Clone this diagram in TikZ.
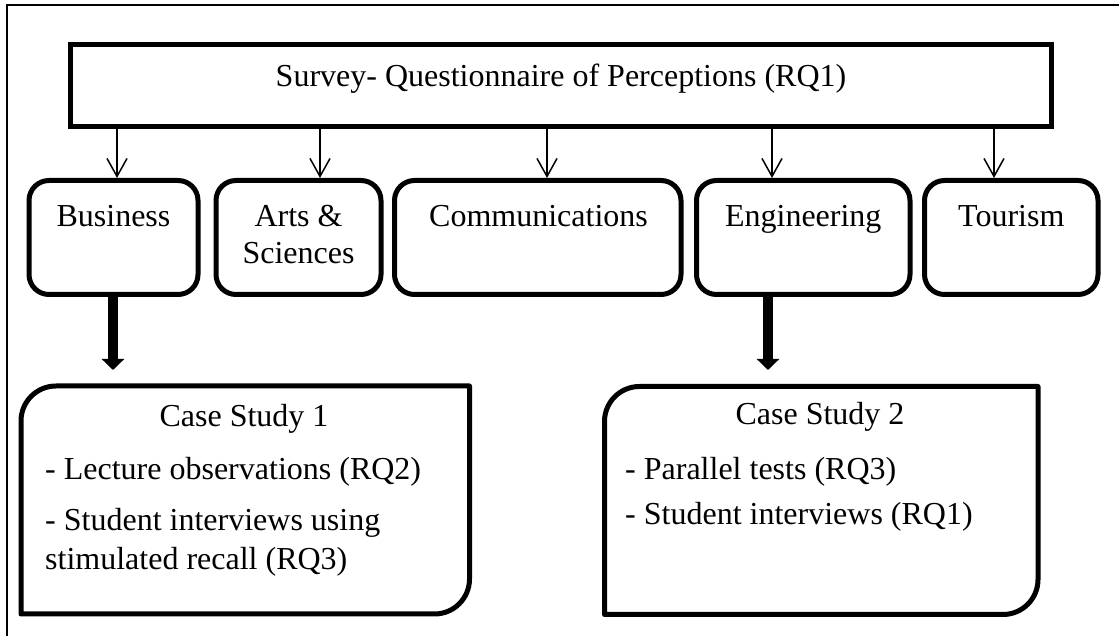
\documentclass[tikz,border=0pt]{standalone}
\usepackage{fontspec}
\setmainfont{Liberation Serif}
\usetikzlibrary{arrows.meta}
\begin{document}
\begin{tikzpicture}[x=1pt,y=1pt,
  font=\fontsize{32}{36.6}\selectfont,
  topbox/.style={draw, line width=5pt, rectangle, inner sep=0pt},
  catbox/.style={draw, line width=5pt, rectangle, rounded corners=20pt, inner sep=0pt, minimum height=114pt},
  casebox/.style={draw=none, rectangle, inner sep=0pt, outer sep=0pt, minimum height=228pt},
  caseline/.style={line width=5pt, line join=round},
  txt/.style={inner sep=0pt, anchor=base},
  itemtxt/.style={inner sep=0pt, anchor=base west},
  thinarrow/.style={line width=1.5pt, -{Straight Barb[length=18pt 0 0, width=20pt 0 0]}},
  thickarrow/.style={line width=10pt, -{Triangle[length=11pt 0 0, width=22pt 0 0]}},
  frameline/.style={line width=1.2pt}
]
\useasboundingbox (0,0) rectangle (1119,636);
% outer frame (partially visible)
\draw[frameline] (7,-10) -- (7,631) -- (1130,631);

% top box
\node[topbox, minimum width=981pt, minimum height=81.5pt] (top) at (561,550.25) {};
\node[txt] (toptxt) at (561,549) {Survey- Questionnaire of Perceptions (RQ1)};

% category boxes
\node[catbox, minimum width=169pt]   (biz)  at (113.5,398.5) {};
\node[catbox, minimum width=165pt]   (arts) at (298.5,398.5) {};
\node[catbox, minimum width=286.5pt] (comm) at (537.75,398.5) {};
\node[catbox, minimum width=213.5pt] (eng)  at (803.25,398.5) {};
\node[catbox, minimum width=173.5pt] (tour) at (1011.25,398.5) {};

\node[txt] (biztxt)   at (113.5,409) {Business};
\node[txt] (artstxta) at (298.5,409) {Arts \&};
\node[txt] (artstxtb) at (298.5,372.5) {Sciences};
\node[txt] (commtxt)  at (538.5,409) {Communications};
\node[txt] (engtxt)   at (803.25,409) {Engineering};
\node[txt] (tourtxt)  at (1011.25,409) {Tourism};

% thin arrows
\coordinate (a1) at (117,0);
\coordinate (a2) at (320,0);
\coordinate (a3) at (547,0);
\coordinate (a4) at (772,0);
\coordinate (a5) at (994,0);
\draw[thinarrow] (top.south -| a1) -- (biz.north -| a1);
\draw[thinarrow] (top.south -| a2) -- (arts.north -| a2);
\draw[thinarrow] (top.south -| a3) -- (comm.north -| a3);
\draw[thinarrow] (top.south -| a4) -- (eng.north -| a4);
\draw[thinarrow] (top.south -| a5) -- (tour.north -| a5);

% case study boxes
\node[casebox, minimum width=448.5pt] (cs1) at (245.25,136) {};
\node[casebox, minimum width=433.5pt] (cs2) at (821.25,135.5) {};
\draw[caseline] (cs1.south west) -- ([yshift=-35pt]cs1.north west)
  arc[start angle=180, end angle=90, radius=35pt] -- (cs1.north east)
  -- ([yshift=35pt]cs1.south east)
  arc[start angle=0, end angle=-90, radius=35pt] -- cycle;
\draw[caseline] (cs2.south west) -- ([yshift=-35pt]cs2.north west)
  arc[start angle=180, end angle=90, radius=35pt] -- (cs2.north east)
  -- ([yshift=35pt]cs2.south east)
  arc[start angle=0, end angle=-90, radius=35pt] -- cycle;

% thick arrows
\coordinate (t1) at (113,266);
\coordinate (t2) at (768,266);
\draw[thickarrow] (biz.south -| t1) -- (t1);
\draw[thickarrow] (eng.south -| t2) -- (t2);

% case study texts
\node[txt] (cs1h) at (244,209.3) {Case Study 1};
\node[itemtxt] (cs1a) at (45,156) {- Lecture observations (RQ2)};
\node[itemtxt] (cs1b) at (45,105) {- Student interviews using};
\node[itemtxt] (cs1c) at (45,66) {stimulated recall (RQ3)};

\node[txt] (cs2h) at (820,211) {Case Study 2};
\node[itemtxt] (cs2a) at (625,156) {- Parallel tests (RQ3)};
\node[itemtxt] (cs2b) at (625,111) {- Student interviews (RQ1)};
\end{tikzpicture}
\end{document}
